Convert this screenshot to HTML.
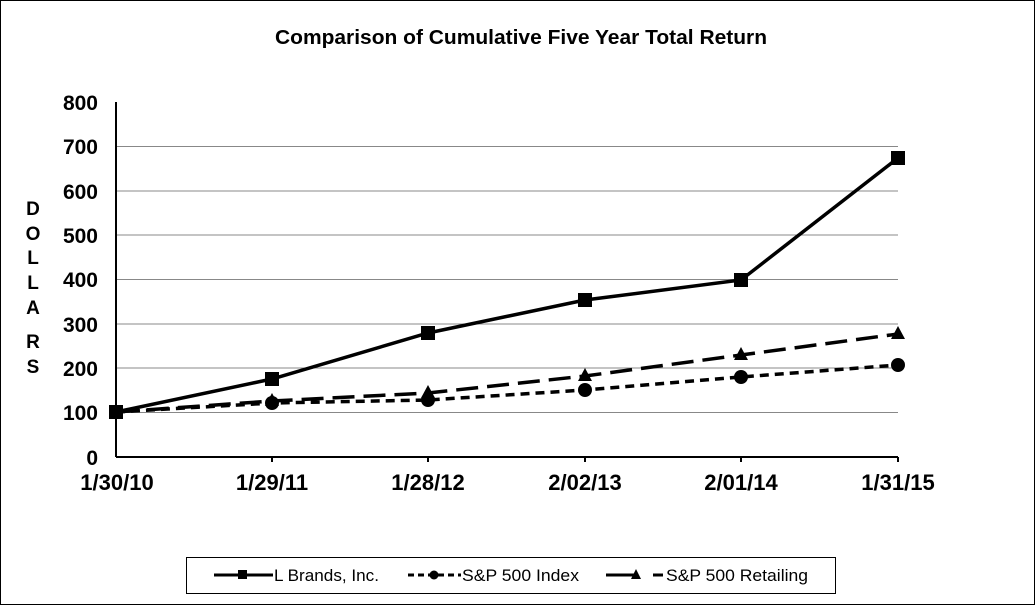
<!DOCTYPE html>
<html><head><style>
body{margin:0;background:#fff;}
svg text{font-family:"Liberation Sans",Arial,sans-serif;font-weight:bold;fill:#000;}
</style></head><body>
<svg width="1035" height="605" viewBox="0 0 1035 605" xmlns="http://www.w3.org/2000/svg">
<rect x="0.5" y="0.5" width="1034" height="604" fill="#fff" stroke="#000"/>
<text x="521" y="44" font-size="20" text-anchor="middle" textLength="492" lengthAdjust="spacingAndGlyphs">Comparison of Cumulative Five Year Total Return</text>
<g stroke="#888" stroke-width="1">
<line x1="116" y1="146.5" x2="898" y2="146.5"/><line x1="116" y1="191" x2="898" y2="191"/>
<line x1="116" y1="235" x2="898" y2="235"/><line x1="116" y1="279.5" x2="898" y2="279.5"/>
<line x1="116" y1="324" x2="898" y2="324"/><line x1="116" y1="368" x2="898" y2="368"/>
<line x1="116" y1="412.5" x2="898" y2="412.5"/>
</g>
<g stroke="#000" stroke-width="2">
<line x1="116" y1="102" x2="116" y2="457"/><line x1="116" y1="457" x2="898" y2="457"/>
<line x1="272" y1="457" x2="272" y2="462"/><line x1="428" y1="457" x2="428" y2="462"/>
<line x1="585" y1="457" x2="585" y2="462"/><line x1="741" y1="457" x2="741" y2="462"/>
<line x1="898" y1="457" x2="898" y2="462"/>
</g>
<g font-size="21" text-anchor="end">
<text x="98" y="110">800</text><text x="98" y="154">700</text><text x="98" y="199">600</text>
<text x="98" y="243">500</text><text x="98" y="287">400</text><text x="98" y="332">300</text>
<text x="98" y="376">200</text><text x="98" y="420">100</text><text x="98" y="465">0</text>
</g>
<g font-size="22" text-anchor="middle">
<text x="117" y="490">1/30/10</text><text x="272" y="490">1/29/11</text><text x="428" y="490">1/28/12</text>
<text x="585" y="490">2/02/13</text><text x="741" y="490">2/01/14</text><text x="898" y="490">1/31/15</text>
</g>
<g font-size="19" text-anchor="middle">
<text x="33" y="215">D</text><text x="33" y="240">O</text><text x="33" y="264">L</text><text x="33" y="289">L</text>
<text x="33" y="314">A</text><text x="33" y="348">R</text><text x="33" y="373">S</text>
</g>
<polyline points="116,412 272,401 428,393 585,376 741,355 898,334" fill="none" stroke="#000" stroke-width="3.5" stroke-dasharray="22,9"/>
<polyline points="116,412 272,403 428,400 585,390 741,377 898,365" fill="none" stroke="#000" stroke-width="3.5" stroke-dasharray="9,6"/>
<polyline points="116,412 272,379 428,333 585,300 741,280 898,158" fill="none" stroke="#000" stroke-width="3.5"/>
<g fill="#000">
<polygon points="272,393 279,406 265,406"/><polygon points="428,385 435,398 421,398"/><polygon points="585,368 592,381 578,381"/><polygon points="741,347 748,360 734,360"/><polygon points="898,326 905,339 891,339"/>
<circle cx="272" cy="403" r="7"/><circle cx="428" cy="400" r="7"/><circle cx="585" cy="390" r="7"/><circle cx="741" cy="377" r="7"/><circle cx="898" cy="365" r="7"/>
<rect x="109" y="405" width="14" height="14"/><rect x="265" y="372" width="14" height="14"/><rect x="421" y="326" width="14" height="14"/><rect x="578" y="293" width="14" height="14"/><rect x="734" y="273" width="14" height="14"/><rect x="891" y="151" width="14" height="14"/>
</g>
<rect x="186.5" y="557.5" width="649" height="36" fill="#fff" stroke="#000"/>
<g stroke="#000" stroke-width="3">
<line x1="214" y1="575" x2="273" y2="575"/>
<line x1="408" y1="575" x2="461" y2="575" stroke-dasharray="6,4"/>
<line x1="606" y1="575" x2="638" y2="575"/><line x1="653" y1="575" x2="663" y2="575"/>
</g>
<rect x="238" y="570" width="9" height="9"/><circle cx="434" cy="575" r="4.5"/><polygon points="636,569 641,579 631,579"/>
<g font-size="17">
<text x="274" y="581" style="font-weight:normal" textLength="105" lengthAdjust="spacingAndGlyphs">L Brands, Inc.</text>
<text x="462" y="581" style="font-weight:normal" textLength="117" lengthAdjust="spacingAndGlyphs">S&amp;P 500 Index</text>
<text x="666" y="581" style="font-weight:normal" textLength="142" lengthAdjust="spacingAndGlyphs">S&amp;P 500 Retailing</text>
</g>
</svg>
</body></html>
